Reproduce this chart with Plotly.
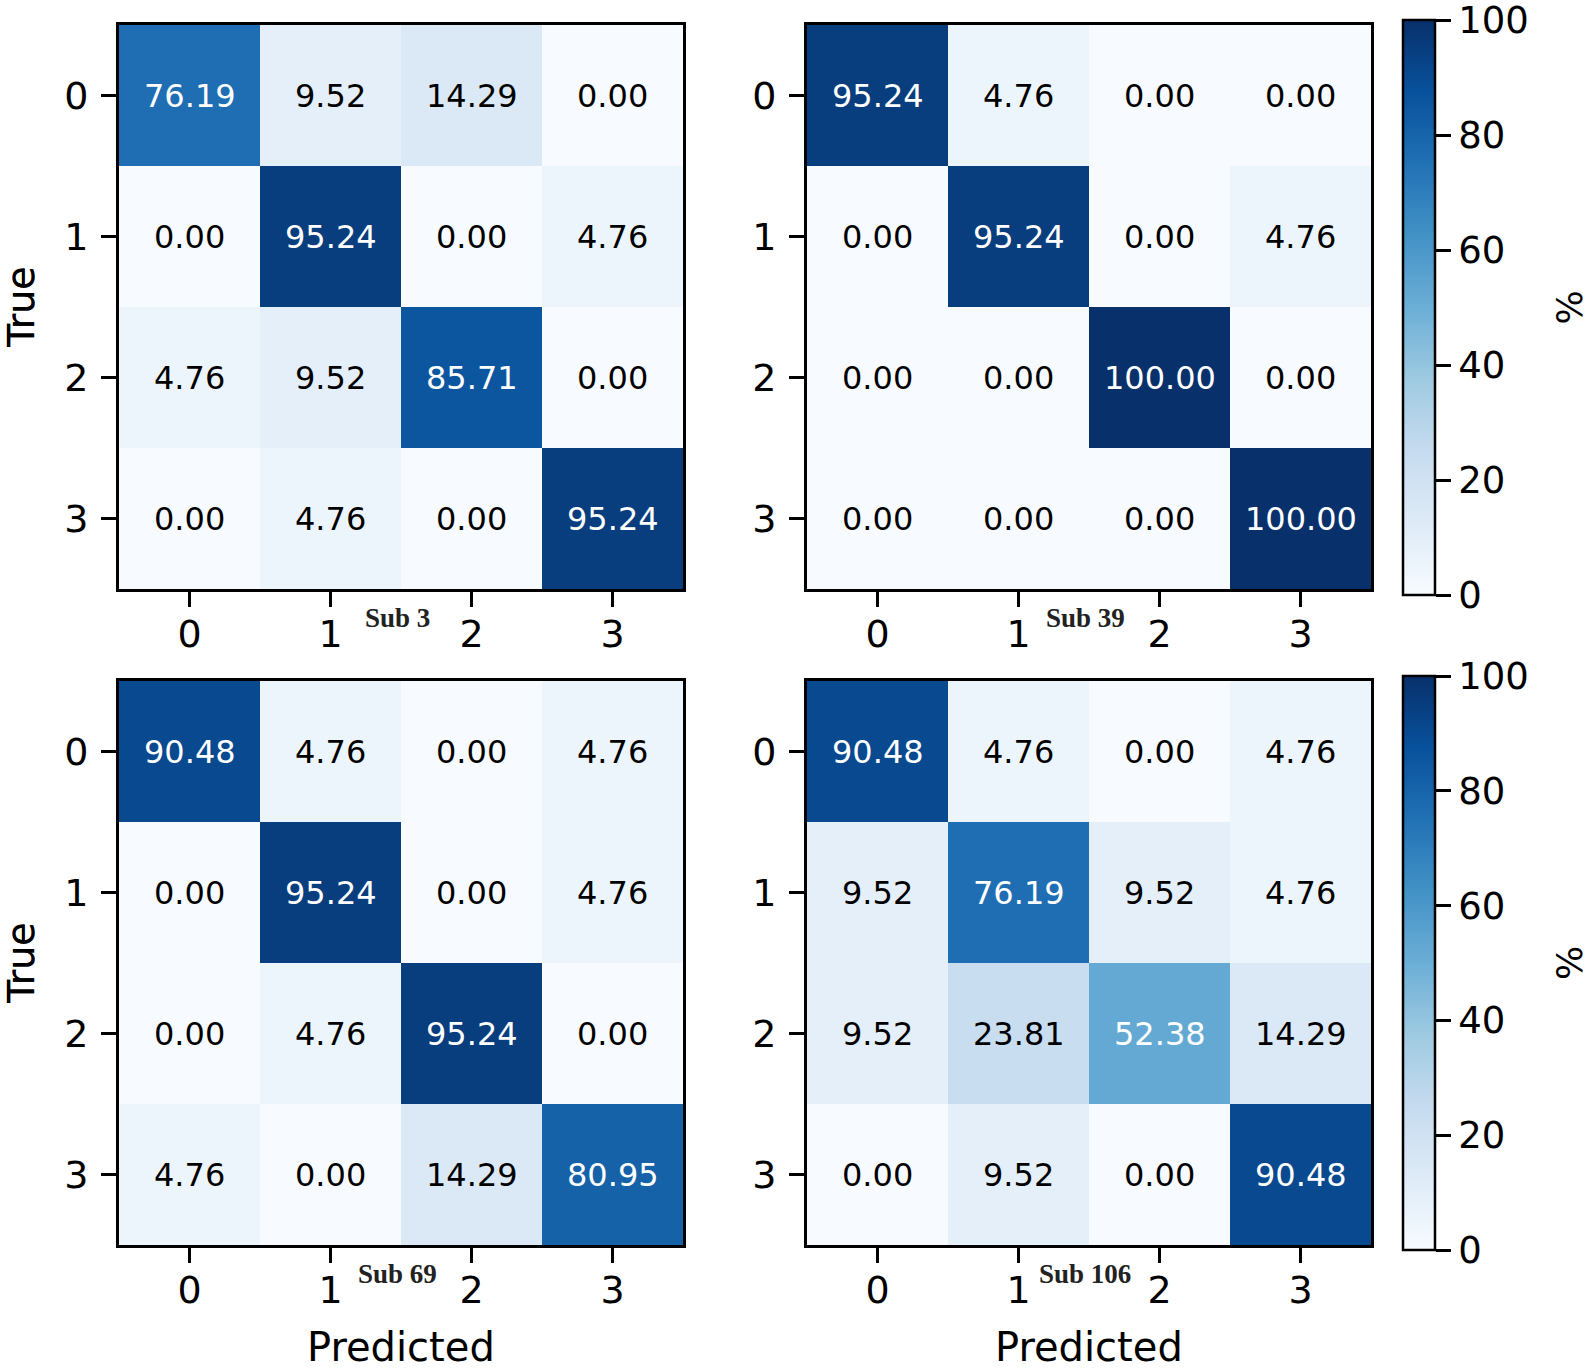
import plotly.graph_objects as go
import plotly.express as px

# Confusion matrices (%), rows = true class, cols = predicted class
classes = [0, 1, 2, 3]

sub3 = [[76.19, 9.52, 14.29, 0.00],
        [0.00, 95.24, 0.00, 4.76],
        [4.76, 9.52, 85.71, 0.00],
        [0.00, 4.76, 0.00, 95.24]]

sub39 = [[95.24, 4.76, 0.00, 0.00],
         [0.00, 95.24, 0.00, 4.76],
         [0.00, 0.00, 100.00, 0.00],
         [0.00, 0.00, 0.00, 100.00]]

sub69 = [[90.48, 4.76, 0.00, 4.76],
         [0.00, 95.24, 0.00, 4.76],
         [0.00, 4.76, 95.24, 0.00],
         [4.76, 0.00, 14.29, 80.95]]

sub106 = [[90.48, 4.76, 0.00, 4.76],
          [9.52, 76.19, 9.52, 4.76],
          [9.52, 23.81, 52.38, 14.29],
          [0.00, 9.52, 0.00, 90.48]]

panel_names = ["Sub 3", "Sub 39", "Sub 69", "Sub 106"]
panel_data = [sub3, sub39, sub69, sub106]
cbar_ticks = [0, 20, 40, 60, 80, 100]

W, H = 1595, 1369
TICK_FONT = dict(family="DejaVu Sans", size=38, color="black")

# panel boxes in pixels: (x0, x1, y0, y1)
boxes = [(119, 683, 25, 589), (807, 1371, 25, 589),
         (119, 683, 681, 1245), (807, 1371, 681, 1245)]
cbar_boxes = [(20, 595), (676, 1250)]


def px_x(v):
    return v / W


def px_y(v):
    return 1 - v / H


fig = go.Figure()
annotations = []

for i, (name, z) in enumerate(zip(panel_names, panel_data)):
    x0, x1, y0, y1 = boxes[i]
    ax = "" if i == 0 else str(i + 1)
    show_cb = i in (1, 3)
    cy0, cy1 = cbar_boxes[i // 2]
    fig.add_trace(go.Heatmap(
        z=z, x=classes, y=classes,
        colorscale=px.colors.sequential.Blues,
        zmin=0, zmax=100,
        showscale=show_cb,
        xaxis="x" + ax, yaxis="y" + ax,
        hovertemplate="True %{y}<br>Predicted %{x}<br>%{z:.2f}%<extra></extra>",
        colorbar=dict(
            x=px_x(1403), xanchor="left",
            y=px_y((cy0 + cy1) / 2), yanchor="middle",
            len=cy1 - cy0, lenmode="pixels",
            thickness=32, thicknessmode="pixels",
            outlinecolor="black", outlinewidth=2.5,
            tickvals=cbar_ticks, ticks="outside", ticklen=15,
            tickwidth=2.5, tickcolor="black", tickprefix="\u2009",
            tickfont=dict(family="DejaVu Sans", size=37, color="black"),
            ticklabeloverflow="allow",
            xpad=0, ypad=0,
        ),
    ))

    # cell values
    for r in range(4):
        for c in range(4):
            v = z[r][c]
            annotations.append(dict(
                x=classes[c], y=classes[r], xref="x" + ax, yref="y" + ax,
                text=f"{v:.2f}", showarrow=False,
                font=dict(family="DejaVu Sans", size=32,
                          color="white" if v > 50 else "black"),
            ))

    # panel label between ticks 1 and 2
    annotations.append(dict(
        x=px_x((x0 + x1) / 2 - 4), y=px_y(y1 + 29),
        xref="paper", yref="paper", text="<b>" + name + "</b>",
        showarrow=False,
        font=dict(family="Liberation Serif", size=27, color="#222"),
        xanchor="center", yanchor="middle",
    ))

    # y axis title
    annotations.append(dict(
        x=px_x(21), y=px_y((y0 + y1) / 2), xref="paper", yref="paper",
        text="True", showarrow=False, textangle=-90,
        font=dict(family="DejaVu Sans", size=38, color="black"),
        xanchor="center", yanchor="middle",
    ))
    # x axis title on bottom row only
    if i >= 2:
        annotations.append(dict(
            x=px_x((x0 + x1) / 2), y=px_y(1347), xref="paper", yref="paper",
            text="Predicted", showarrow=False,
            font=dict(family="DejaVu Sans", size=40, color="black"),
            xanchor="center", yanchor="middle",
        ))

    axis_common = dict(
        tickmode="array", tickvals=classes, ticktext=[str(c) for c in classes],
        ticks="outside", ticklen=15, tickwidth=2.5, tickcolor="black",
        tickfont=TICK_FONT, showline=True, linecolor="black", linewidth=3,
        mirror=True, showgrid=False, zeroline=False,
    )
    fig.layout["xaxis" + ax] = dict(
        axis_common, domain=[px_x(x0), px_x(x1)], anchor="y" + ax,
        range=[-0.5, 3.5], ticklabelstandoff=-6,
    )
    fig.layout["yaxis" + ax] = dict(
        axis_common, domain=[px_y(y1), px_y(y0)], anchor="x" + ax,
        range=[3.5, -0.5], ticklabelstandoff=5,
    )

# colorbar titles
for cy0, cy1 in cbar_boxes:
    annotations.append(dict(
        x=px_x(1569), y=px_y((cy0 + cy1) / 2), xref="paper", yref="paper",
        text="%", showarrow=False, textangle=-90,
        font=dict(family="DejaVu Sans", size=36, color="black"),
        xanchor="center", yanchor="middle",
    ))

fig.update_layout(
    width=W, height=H,
    margin=dict(l=0, r=0, t=0, b=0),
    paper_bgcolor="white", plot_bgcolor="white",
    annotations=annotations,
    showlegend=False,
)

# drop the default 8px page margin so the figure fills the window
fig.write_html("out.html", config={"displayModeBar": False},
               post_script="document.body.style.margin='0';")
